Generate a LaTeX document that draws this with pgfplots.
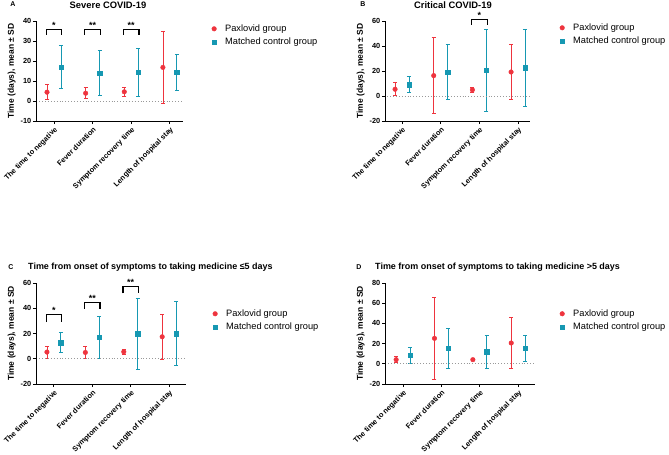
\documentclass[border=0pt]{standalone}
\usepackage{fontspec}
\setmainfont{Liberation Sans}
\usepackage{pgfplots}
\pgfplotsset{compat=1.18}
\definecolor{pax}{RGB}{238,52,62}
\definecolor{ctl}{RGB}{22,152,178}
\pgfplotsset{
  panel/.style={
    scale only axis, anchor=south west, clip=false,
    axis x line*=bottom, axis y line*=left,
    axis line style={line width=0.8bp, black},
    tick align=outside, major tick length=3bp,
    tick style={line width=0.8bp, black},
    xtick={0,1,2,3},
    xticklabels={The time to negative, Fever duration, Symptom recovery time, Length of hospital stay},
    x tick label style={rotate=45, anchor=north east, inner sep=1.5bp, font=\bfseries\fontsize{7.4}{8}\selectfont},
    y tick label style={font=\bfseries\fontsize{7.4}{8}\selectfont, inner sep=1.5bp},
    /pgf/number format/assume math mode=true,
    ylabel={Time (days), mean ± SD},
    ylabel style={font=\bfseries\fontsize{8.5}{9}\selectfont},
    legend cell align=left,
    legend image code/.code={\path[draw=none, fill=none] (0bp,-2.5bp) rectangle (13bp,2.5bp); \draw[##1] plot coordinates {(3bp,0bp)};},
    legend style={draw=none, fill=none, anchor=north west, inner sep=0pt,
      nodes={inner sep=1bp}, column sep=0pt,
      font=\fontsize{9.3}{10}\selectfont, row sep=3bp},
  },
  paxp/.style={only marks, mark=*, mark size=2.3bp, color=pax, mark options={solid, fill=pax},
    error bars/.cd, y dir=both, y explicit,
    error bar style={line width=0.8bp, color=pax},
    error mark options={rotate=90, mark size=2bp, line width=0.8bp, color=pax}},
  ctlp/.style={only marks, mark=square*, mark size=2.2bp, color=ctl, mark options={solid, fill=ctl},
    error bars/.cd, y dir=both, y explicit,
    error bar style={line width=0.8bp, color=ctl},
    error mark options={rotate=90, mark size=2bp, line width=0.8bp, color=ctl}},
  zero/.style={forget plot, gray!80, dotted, line width=0.9bp},
  brk/.style={forget plot, black, line width=1.1bp},
}
\newcommand{\stars}[2]{\node[anchor=base, inner sep=0pt, font=\bfseries\fontsize{9}{9}\selectfont] at (axis cs:#1) {#2};}
\begin{document}
\begin{tikzpicture}

% ---------------- A ----------------
\begin{axis}[panel, at={(36bp,-121bp)}, width=147bp, height=100bp,
  xmin=-0.465, xmax=3.34, ymin=-10, ymax=40, ytick={-10,0,10,20,30,40},
  legend style={at={(1.19,0.975)}}]
\addplot[paxp] coordinates {(-0.18,4.4) +- (0,3.8) (0.82,3.9) +- (0,2.7) (1.82,4.6) +- (0,2.1) (2.82,16.8) +- (0,18.1)};
\addlegendentry{Paxlovid group}
\addplot[ctlp] coordinates {(0.18,17) +- (0,10.6) (1.18,14) +- (0,11.4) (2.18,14.3) +- (0,11.8) (3.18,14.3) +- (0,9.0)};
\addlegendentry{Matched control group}
\addplot[zero] coordinates {(-0.38,0) (3.34,0)};
\addplot[brk] coordinates {(-0.2,33.2) (-0.2,35.7) (0.2,35.7) (0.2,33.2)};
\addplot[brk] coordinates {(0.8,33.2) (0.8,35.7) (1.2,35.7) (1.2,33.2)};
\addplot[brk] coordinates {(1.8,33.2) (1.8,35.7) (2.2,35.7) (2.2,33.2)};
\stars{0,36.2}{*}
\stars{1,36.2}{**}
\stars{2,36.2}{**}
\end{axis}

% ---------------- B ----------------
\begin{axis}[panel, at={(385bp,-121bp)}, width=145bp, height=100bp,
  xmin=-0.44, xmax=3.31, ymin=-20, ymax=60, ytick={-20,0,20,40,60},
  legend style={at={(1.2,0.985)}}]
\addplot[paxp] coordinates {(-0.18,5.4) +- (0,5.2) (0.82,16.3) +- (0,30.6) (1.82,4.9) +- (0,2.3) (2.82,19.2) +- (0,21.8)};
\addlegendentry{Paxlovid group}
\addplot[ctlp] coordinates {(0.18,9.1) +- (0,6.2) (1.18,19.2) +- (0,21.8) (2.18,20.8) +- (0,32.8) (3.18,22.6) +- (0,30.6)};
\addlegendentry{Matched control group}
\addplot[zero] coordinates {(-0.38,0) (3.31,0)};
\addplot[brk] coordinates {(1.8,57.1) (1.8,61.3) (2.2,61.3) (2.2,57.1)};
\stars{2,62.2}{*}
\end{axis}

% ---------------- C ----------------
\begin{axis}[panel, at={(36bp,-384bp)}, width=150bp, height=101bp,
  xmin=-0.465, xmax=3.44, ymin=-20, ymax=60, ytick={-20,0,20,40,60},
  legend style={at={(1.173,0.748)}}]
\addplot[paxp] coordinates {(-0.18,5.3) +- (0,4.8) (0.82,5.0) +- (0,5.0) (1.82,5.5) +- (0,2.0) (2.82,17.4) +- (0,18.0)};
\addlegendentry{Paxlovid group}
\addplot[ctlp] coordinates {(0.18,12.7) +- (0,7.9) (1.18,16.9) +- (0,16.6) (2.18,19.8) +- (0,27.9) (3.18,19.8) +- (0,25.3)};
\addlegendentry{Matched control group}
\addplot[zero] coordinates {(-0.38,0) (3.44,0)};
\addplot[brk] coordinates {(-0.2,29.0) (-0.2,35.1) (0.2,35.1) (0.2,29.0)};
\addplot[brk] coordinates {(0.8,39.6) (0.8,44.6) (1.2,44.6) (1.2,39.6)};
\addplot[brk] coordinates {(1.8,51.8) (1.8,57.4) (2.2,57.4) (2.2,51.8)};
\stars{0,35.9}{*}
\stars{1,45.4}{**}
\stars{2,58.2}{**}
\end{axis}

% ---------------- D ----------------
\begin{axis}[panel, at={(385bp,-384bp)}, width=150bp, height=101bp,
  xmin=-0.47, xmax=3.44, ymin=-20, ymax=80, ytick={-20,0,20,40,60,80},
  legend style={at={(1.16,0.748)}}]
\addplot[paxp] coordinates {(-0.18,4.1) +- (0,2.8) (0.82,25.2) +- (0,40.2) (1.82,4.1) +- (0,1.2) (2.82,20.6) +- (0,24.9)};
\addlegendentry{Paxlovid group}
\addplot[ctlp] coordinates {(0.18,8.4) +- (0,7.6) (1.18,15.3) +- (0,19.9) (2.18,12.0) +- (0,16.3) (3.18,15.3) +- (0,12.6)};
\addlegendentry{Matched control group}
\addplot[zero] coordinates {(-0.38,0) (3.44,0)};
\end{axis}

% titles and panel letters
\node[font=\bfseries\fontsize{7}{8}\selectfont] at (13bp,-4bp) {A};
\node[font=\bfseries\fontsize{9.4}{10}\selectfont] at (108bp,-5bp) {Severe COVID-19};
\node[font=\bfseries\fontsize{7}{8}\selectfont] at (363bp,-4bp) {B};
\node[font=\bfseries\fontsize{9.4}{10}\selectfont] at (453bp,-5bp) {Critical COVID-19};
\node[font=\bfseries\fontsize{7}{8}\selectfont] at (11bp,-267bp) {C};
\node[anchor=west, inner sep=0pt, font=\bfseries\fontsize{9}{10}\selectfont] at (28bp,-267bp) {Time from onset of symptoms to taking medicine ≤5 days};
\node[font=\bfseries\fontsize{7}{8}\selectfont] at (359bp,-267bp) {D};
\node[anchor=west, inner sep=0pt, font=\bfseries\fontsize{9}{10}\selectfont] at (375bp,-267bp) {Time from onset of symptoms to taking medicine >5 days};

\pgfresetboundingbox
\path[use as bounding box] (0,0) rectangle (669bp,-455bp);
\end{tikzpicture}
\end{document}
